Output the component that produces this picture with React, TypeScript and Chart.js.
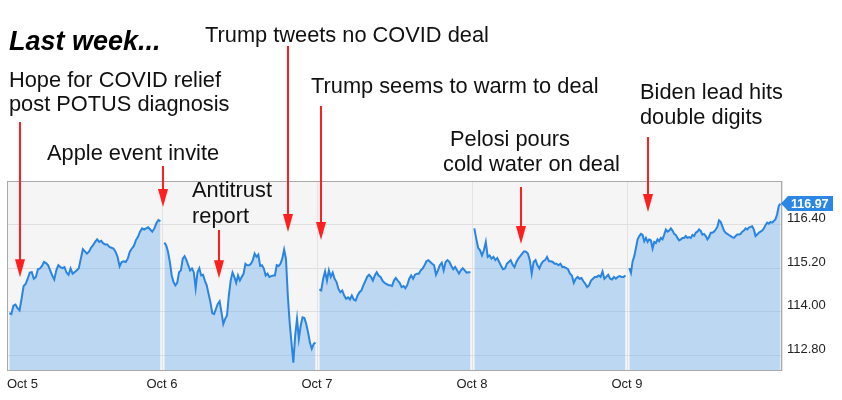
import React, { useEffect, useRef } from 'react';
import { Chart, registerables } from 'chart.js';

Chart.register(...registerables);

const dayLabels = ['Oct 5', 'Oct 6', 'Oct 7', 'Oct 8', 'Oct 9'];
const yTickValues = [112.8, 114.0, 115.2, 116.4];

const oct5 = [113.97,113.94,114.17,114.20,114.10,114.04,114.36,114.71,114.77,114.91,115.08,115.09,114.91,114.96,115.17,115.19,115.26,115.37,115.34,115.28,115.14,115.00,114.89,115.14,115.28,115.23,115.20,115.23,115.08,115.02,115.19,115.05,115.09,115.14,115.20,115.46,115.72,115.66,115.60,115.65,115.76,115.83,115.92,115.99,115.92,115.95,115.88,115.85,115.85,115.78,115.76,115.74,115.65,115.51,115.25,115.37,115.39,115.37,115.46,115.65,115.74,115.81,115.97,116.06,116.20,116.29,116.26,116.29,116.32,116.26,116.20,116.29,116.43,116.52,116.49];
const oct6 = [115.90,115.83,115.65,115.37,115.00,114.82,114.73,114.80,115.09,115.14,115.46,115.53,115.42,115.28,115.14,115.19,115.09,114.65,115.09,115.20,115.00,115.02,114.86,114.73,114.50,114.27,113.97,113.94,114.08,114.22,114.29,113.99,113.67,113.81,113.90,114.45,114.86,115.08,114.96,114.80,115.00,114.86,114.96,115.05,115.32,115.28,115.28,115.32,115.42,115.60,115.51,115.57,115.26,115.28,115.19,115.00,115.05,114.96,114.98,115.00,115.00,115.28,115.26,115.32,115.46,115.71,115.46,114.45,113.71,113.16,112.61,113.35,113.81,113.26,113.62,113.85,113.83,113.67,113.44,113.16,112.99,113.12,113.16];
const oct7 = [114.62,114.59,114.91,115.11,114.86,115.14,114.96,115.08,114.91,114.82,114.63,114.54,114.59,114.45,114.36,114.40,114.34,114.45,114.34,114.31,114.45,114.54,114.59,114.73,114.84,114.96,115.02,114.96,114.86,115.00,115.09,115.00,114.96,114.86,114.80,114.77,114.74,114.73,114.71,114.86,114.93,114.86,114.80,114.68,114.71,114.65,114.74,114.91,115.00,114.91,115.02,115.05,115.05,115.14,115.19,115.28,115.39,115.42,115.37,115.32,115.28,115.02,115.14,115.28,115.35,115.14,115.37,115.42,115.37,115.26,115.17,115.23,115.14,115.05,115.14,115.20,115.14,115.08,115.09,115.09];
const oct8 = [116.29,116.01,115.76,115.69,115.55,115.69,115.92,115.51,115.55,115.46,115.51,115.42,115.48,115.37,115.26,115.17,115.19,115.32,115.37,115.42,115.30,115.23,115.37,115.46,115.53,115.60,115.66,115.65,115.60,115.42,115.05,115.37,115.42,115.28,115.19,115.32,115.39,115.42,115.51,115.39,115.39,115.37,115.32,115.32,115.28,115.32,115.23,115.23,115.20,115.17,115.05,115.00,114.80,114.91,114.96,114.91,114.93,114.84,114.77,114.68,114.73,114.86,114.91,114.96,114.96,115.00,114.96,115.11,114.91,114.96,115.02,114.91,114.89,114.96,114.91,114.96,114.98,114.96,114.96,115.00];
const oct9 = [115.20,115.07,115.39,115.53,115.76,115.99,116.08,116.14,116.11,115.94,116.03,115.92,115.99,115.96,115.74,115.92,115.89,115.99,115.94,116.03,115.99,116.12,116.26,116.20,116.23,116.29,116.23,116.14,116.11,116.03,115.96,115.99,116.03,116.03,116.08,116.03,116.05,116.03,116.11,116.08,116.17,116.20,116.26,116.22,116.12,116.14,116.08,115.99,116.05,116.17,116.17,116.20,116.26,116.33,116.51,116.47,116.35,116.23,116.17,116.14,116.11,116.08,116.05,116.03,116.08,116.12,116.12,116.14,116.20,116.23,116.29,116.26,116.31,116.33,116.35,116.26,116.08,116.12,116.17,116.20,116.23,116.29,116.38,116.45,116.42,116.47,116.45,116.49,116.54,116.68,116.91,116.97];

const days = [oct5, oct6, oct7, oct8, oct9];

// Annotation text lines: [text, x, baseline]
const noteLines: [string, number, number][] = [
  ['Hope for COVID relief', 9, 87],
  ['post POTUS diagnosis', 9, 111],
  ['Apple event invite', 47, 160],
  ['Antitrust', 192, 197],
  ['report', 192, 223],
  ['Trump tweets no COVID deal', 205, 42],
  ['Trump seems to warm to deal', 311, 93],
  ['Pelosi pours', 450, 146],
  ['cold water on deal', 443, 171],
  ['Biden lead hits', 640, 99],
  ['double digits', 640, 124],
];

// Arrows: day position (x in days), price pointed at, top of arrow (px)
const arrowDays = [0.084, 1.006, 1.368, 1.81, 2.023, 3.319, 4.135];
const arrowValues = [114.95, 116.88, 114.92, 116.19, 115.97, 115.86, 116.74];
const arrowTops = [122, 166, 230, 46, 106, 187, 137];

const FONT = '"Liberation Sans", Arial, Helvetica, sans-serif';

const buildPoints = () => {
  const pts: { x: number; y: number | null }[] = [];
  days.forEach((vals, d) => {
    vals.forEach((v, i) => {
      pts.push({ x: d + 0.015 + (0.975 * i) / (vals.length - 1), y: v });
    });
    if (d < days.length - 1) pts.push({ x: d + 1, y: null });
  });
  return pts;
};

const bgPlugin = {
  id: 'bgPlugin',
  beforeDraw(chart: any) {
    const { ctx, chartArea } = chart;
    ctx.save();
    ctx.fillStyle = '#f5f5f5';
    ctx.fillRect(chartArea.left, chartArea.top, chartArea.right - chartArea.left, chartArea.bottom - chartArea.top);
    ctx.restore();
  },
  afterDatasetsDraw(chart: any) {
    const { ctx, chartArea } = chart;
    ctx.save();
    ctx.strokeStyle = '#a9a9a9';
    ctx.lineWidth = 1;
    ctx.strokeRect(chartArea.left + 0.5, chartArea.top + 0.5, chartArea.right - chartArea.left - 1, chartArea.bottom - chartArea.top - 1);
    ctx.restore();
  },
};

const notesPlugin = {
  id: 'notesPlugin',
  afterDraw(chart: any) {
    const { ctx, scales, chartArea } = chart;
    const xs = scales.x;
    const ys = scales.y;
    ctx.save();
    ctx.fillStyle = '#000';
    ctx.textBaseline = 'alphabetic';
    ctx.textAlign = 'left';
    ctx.font = `italic bold 27px ${FONT}`;
    ctx.fillText('Last week...', 9, 50);
    ctx.font = `21.8px ${FONT}`;
    ctx.fillStyle = '#111';
    noteLines.forEach(([t, x, y]) => ctx.fillText(t, x, y));
    ctx.strokeStyle = '#ff1f1f';
    ctx.fillStyle = '#ff1f1f';
    ctx.lineWidth = 2;
    arrowDays.forEach((d, i) => {
      const x = Math.round(xs.getPixelForValue(d));
      const tip = ys.getPixelForValue(arrowValues[i]);
      const top = arrowTops[i];
      const headLen = 18;
      const headW = 5;
      ctx.beginPath();
      ctx.moveTo(x, top);
      ctx.lineTo(x, tip - headLen + 2);
      ctx.stroke();
      ctx.beginPath();
      ctx.moveTo(x - headW, tip - headLen);
      ctx.lineTo(x + headW, tip - headLen);
      ctx.lineTo(x, tip);
      ctx.closePath();
      ctx.fill();
    });
    const last = oct9[oct9.length - 1];
    const yc = ys.getPixelForValue(last);
    const l = chartArea.right - 1;
    ctx.fillStyle = '#2b87e3';
    ctx.beginPath();
    ctx.moveTo(l, yc);
    ctx.lineTo(l + 7, yc - 7.5);
    ctx.lineTo(833, yc - 7.5);
    ctx.lineTo(833, yc + 7.5);
    ctx.lineTo(l + 7, yc + 7.5);
    ctx.closePath();
    ctx.fill();
    ctx.fillStyle = '#fff';
    ctx.font = `bold 12.5px ${FONT}`;
    ctx.textBaseline = 'middle';
    ctx.fillText(last.toFixed(2), 791, yc + 0.5);
    ctx.restore();
  },
};

export default function App() {
  const ref = useRef<HTMLCanvasElement>(null);
  useEffect(() => {
    const chart = new Chart(ref.current as HTMLCanvasElement, {
      type: 'line',
      data: {
        datasets: [
          {
            data: buildPoints() as any,
            borderColor: '#2a84e0',
            borderWidth: 2,
            backgroundColor: 'rgba(110,175,235,0.42)',
            fill: 'start',
            pointRadius: 0,
            tension: 0,
            spanGaps: false,
          },
        ],
      },
      options: {
        responsive: false,
        animation: false,
        events: [],
        layout: { padding: { top: 181, left: 7, right: 0, bottom: 0 } },
        plugins: { legend: { display: false }, tooltip: { enabled: false } },
        scales: {
          x: {
            type: 'linear',
            min: 0,
            max: 5,
            afterBuildTicks: (scale: any) => {
              scale.ticks = dayLabels.map((_, i) => ({ value: i })).concat([{ value: 5 }]);
            },
            afterFit: (scale: any) => {
              scale.height = 29;
            },
            ticks: {
              autoSkip: false,
              maxRotation: 0,
              align: 'inner',
              padding: 6,
              color: '#222',
              font: { family: FONT, size: 13 },
              callback: (v: any) => dayLabels[v] ?? '',
            },
            grid: { color: '#e3e3e3', drawTicks: false },
            border: { display: false },
          },
          y: {
            type: 'linear',
            position: 'right',
            min: 112.38,
            max: 117.59,
            afterBuildTicks: (scale: any) => {
              scale.ticks = yTickValues.map((v) => ({ value: v }));
            },
            afterFit: (scale: any) => {
              scale.width = 60;
            },
            ticks: {
              padding: 5,
              labelOffset: -6,
              color: '#222',
              font: { family: FONT, size: 13 },
              callback: (v: any) => Number(v).toFixed(2),
            },
            grid: { color: '#dedede', drawTicks: false },
            border: { display: false },
          },
        },
      },
      plugins: [bgPlugin, notesPlugin],
    });
    return () => chart.destroy();
  }, []);
  return (
    <div style={{ position: 'absolute', left: 0, top: 0, width: 842, height: 400, background: '#fff' }}>
      <canvas ref={ref} width={842} height={400} style={{ display: 'block' }} />
    </div>
  );
}
